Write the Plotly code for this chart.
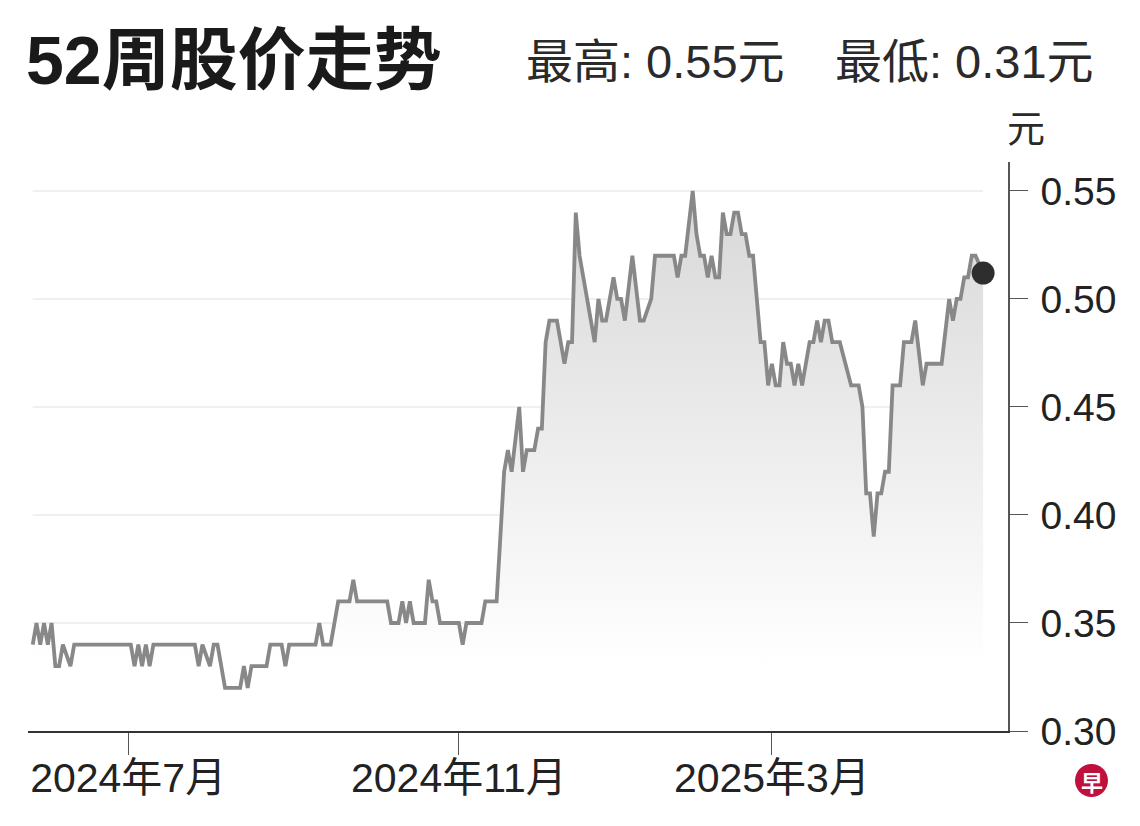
import plotly.graph_objects as go

# ---- data (trading-day index, closing price in 元) ----
trade_day = [0, 1, 2, 3, 4, 5, 6, 7, 8, 10, 11, 26, 27, 28, 29, 30, 31, 32, 43, 44,
             45, 47, 48, 49, 51, 55, 56, 57, 58, 62, 63, 66, 67, 68, 75, 76, 77, 79, 81, 84,
             85, 86, 94, 95, 97, 98, 99, 100, 101, 104, 105, 106, 107, 108, 113, 114, 115, 119, 120, 123,
             125, 126, 127, 129, 130, 131, 133, 134, 135, 136, 137, 139, 141, 142, 143, 144, 145, 147, 149, 150,
             151, 152, 154, 155, 156, 157, 159, 161, 162, 164, 165, 170, 171, 172, 173, 175, 176, 177, 178, 179,
             180, 181, 182, 183, 184, 185, 186, 187, 188, 189, 190, 191, 192, 193, 194, 195, 196, 197, 198, 199,
             200, 201, 202, 203, 204, 206, 207, 208, 209, 210, 211, 212, 214, 217, 219, 220, 221, 222, 223, 224,
             225, 226, 227, 228, 230, 231, 233, 234, 236, 237, 241, 243, 244, 245, 246, 247, 248, 249, 250, 252]
close = [0.34, 0.35, 0.34, 0.35, 0.34, 0.35, 0.33, 0.33, 0.34, 0.33, 0.34, 0.34, 0.33, 0.34, 0.33, 0.34, 0.33, 0.34, 0.34, 0.33,
         0.34, 0.33, 0.34, 0.34, 0.32, 0.32, 0.33, 0.32, 0.33, 0.33, 0.34, 0.34, 0.33, 0.34, 0.34, 0.35, 0.34, 0.34, 0.36, 0.36,
         0.37, 0.36, 0.36, 0.35, 0.35, 0.36, 0.35, 0.36, 0.35, 0.35, 0.37, 0.36, 0.36, 0.35, 0.35, 0.34, 0.35, 0.35, 0.36, 0.36,
         0.42, 0.43, 0.42, 0.45, 0.42, 0.43, 0.43, 0.44, 0.44, 0.48, 0.49, 0.49, 0.47, 0.48, 0.48, 0.54, 0.52, 0.50, 0.48, 0.50,
         0.49, 0.49, 0.51, 0.50, 0.50, 0.49, 0.52, 0.49, 0.49, 0.50, 0.52, 0.52, 0.51, 0.52, 0.52, 0.55, 0.53, 0.52, 0.52, 0.51,
         0.52, 0.51, 0.51, 0.54, 0.53, 0.53, 0.54, 0.54, 0.53, 0.53, 0.52, 0.52, 0.50, 0.48, 0.48, 0.46, 0.47, 0.46, 0.46, 0.48,
         0.47, 0.47, 0.46, 0.47, 0.46, 0.48, 0.48, 0.49, 0.48, 0.49, 0.49, 0.48, 0.48, 0.46, 0.46, 0.45, 0.41, 0.41, 0.39, 0.41,
         0.41, 0.42, 0.42, 0.46, 0.46, 0.48, 0.48, 0.49, 0.46, 0.47, 0.47, 0.50, 0.49, 0.50, 0.50, 0.51, 0.51, 0.52, 0.52, 0.512]

y_ticks = [0.30, 0.35, 0.40, 0.45, 0.50, 0.55]
y_tick_labels = ["0.30", "0.35", "0.40", "0.45", "0.50", "0.55"]
month_pos = [25.3, 113.0, 196.0]
month_labels = ["2024年7月", "2024年11月", "2025年3月"]
title_text = "52周股价走势"
high_text = "最高: 0.55元"
low_text = "最低: 0.31元"
unit_text = "元"
logo_text = "早"

# ---- layout geometry (page has an 8px body margin) ----
OFF = 8
W, H = 1140 - 2 * OFF, 826 - 2 * OFF
L, T = 28 - OFF, 162 - OFF
R = W - (1008 - OFF)
B = H - (731 - OFF)
PW, PH = W - L - R, H - T - B


def px_x(px):
    return (px - OFF - L) / PW


def px_y(py):
    return (H - B - (py - OFF)) / PH


NUM = "Liberation Sans, Arial, Noto Sans CJK SC, sans-serif"

fig = go.Figure()
fig.add_trace(go.Scatter(
    x=trade_day, y=close, mode="lines",
    line=dict(color="#888888", width=3.8),
    fill="tozeroy",
    fillgradient=dict(type="vertical",
                      colorscale=[[0, "rgba(255,255,255,1)"], [1, "rgba(214,214,214,1)"]],
                      start=0.33, stop=0.56),
    hoverinfo="skip", showlegend=False,
))
fig.add_trace(go.Scatter(
    x=[trade_day[-1]], y=[close[-1]], mode="markers",
    marker=dict(size=23, color="#2e2e2e"),
    hoverinfo="skip", showlegend=False,
))

# light gridlines spanning the data only
for v in y_ticks[1:]:
    fig.add_shape(type="line", xref="x", yref="y", x0=trade_day[0], x1=trade_day[-1], y0=v, y1=v,
                  line=dict(color="#ebebeb", width=1.5), layer="below")

fig.update_layout(
    width=W, height=H,
    margin=dict(l=L, r=R, t=T, b=B, autoexpand=False),
    paper_bgcolor="white", plot_bgcolor="white",
    showlegend=False,
    xaxis=dict(
        range=[-1.25, 258.6],
        tickvals=month_pos, ticktext=month_labels,
        ticks="outside", ticklen=22, tickwidth=1.2, tickcolor="#555555",
        showline=True, linecolor="#333333", linewidth=2,
        showgrid=False, zeroline=False, automargin=False,
        ticklabelstandoff=-12,
        tickfont=dict(family=NUM, size=41, color="#222222"),
    ),
    yaxis=dict(
        side="right",
        range=[0.30, 0.5634],
        tickvals=y_ticks, ticktext=y_tick_labels,
        ticks="outside", ticklen=18, tickwidth=1.2, tickcolor="#555555",
        showline=True, linecolor="#555555", linewidth=1.5,
        showgrid=False, zeroline=False, automargin=False,
        ticklabelstandoff=5,
        tickfont=dict(family=NUM, size=39, color="#222222"),
    ),
)

fig.add_annotation(text="<b>" + title_text + "</b>", xref="paper", yref="paper",
                   x=px_x(24), y=px_y(60), xanchor="left", yanchor="middle", showarrow=False,
                   font=dict(family="Liberation Sans, Noto Sans CJK SC, sans-serif", size=68, color="#1a1a1a"))
fig.add_annotation(text=high_text, xref="paper", yref="paper",
                   x=px_x(524), y=px_y(61), xanchor="left", yanchor="middle", showarrow=False,
                   font=dict(family=NUM, size=47, color="#2a2a2a"))
fig.add_annotation(text=low_text, xref="paper", yref="paper",
                   x=px_x(1096), y=px_y(61), xanchor="right", yanchor="middle", showarrow=False,
                   font=dict(family=NUM, size=47, color="#2a2a2a"))
fig.add_annotation(text=unit_text, xref="paper", yref="paper",
                   x=px_x(1005), y=px_y(129), xanchor="left", yanchor="middle", showarrow=False,
                   font=dict(family=NUM, size=38, color="#2a2a2a"))

# logo
fig.add_shape(type="circle", xref="paper", yref="paper",
              x0=px_x(1075), x1=px_x(1108), y0=px_y(797), y1=px_y(764),
              fillcolor="#c0103c", line=dict(width=0))
fig.add_annotation(text="<b>" + logo_text + "</b>", xref="paper", yref="paper",
                   x=px_x(1091.5), y=px_y(780.5), xanchor="center", yanchor="middle", showarrow=False,
                   font=dict(family="Noto Sans CJK SC, sans-serif", size=22, color="white"))

fig.write_html("out.html")
